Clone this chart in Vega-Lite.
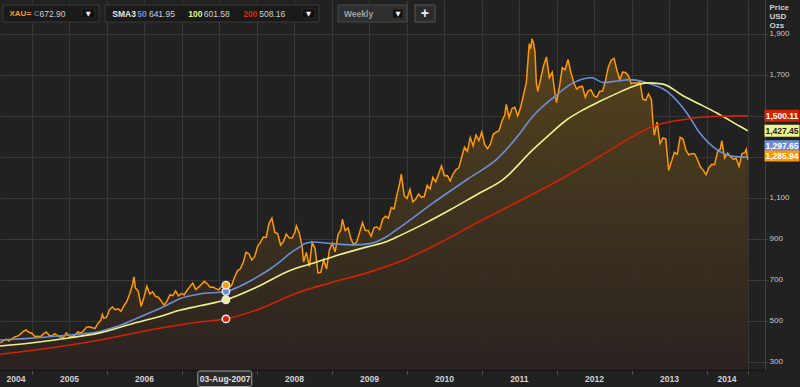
{
"$schema":"https://vega.github.io/schema/vega-lite/v6.json",
"width":765,"height":370,
"autosize":{"type":"none"},
"padding":{"left":0,"top":0,"right":35,"bottom":17},
"background":"#212121",
"config":{"view":{"stroke":null},"font":"Liberation Sans"},
"datasets":{
"price":[
{"date":"2004-07-30","value":391},{"date":"2004-08-13","value":401},{"date":"2004-08-27","value":408},{"date":"2004-09-10","value":401},{"date":"2004-09-24","value":410},{"date":"2004-10-08","value":420},{"date":"2004-10-22","value":424},{"date":"2004-11-05","value":434},{"date":"2004-11-19","value":447},{"date":"2004-12-03","value":454},{"date":"2004-12-17","value":443},{"date":"2004-12-31","value":438},
{"date":"2005-01-14","value":422},{"date":"2005-01-28","value":423},{"date":"2005-02-11","value":421},{"date":"2005-02-25","value":435},{"date":"2005-03-11","value":444},{"date":"2005-03-25","value":428},{"date":"2005-04-08","value":424},{"date":"2005-04-22","value":436},{"date":"2005-05-06","value":427},{"date":"2005-05-20","value":419},{"date":"2005-06-03","value":418},{"date":"2005-06-17","value":441},{"date":"2005-07-01","value":425},{"date":"2005-07-15","value":422},{"date":"2005-07-29","value":429},{"date":"2005-08-12","value":445},{"date":"2005-08-26","value":439},{"date":"2005-09-09","value":450},{"date":"2005-09-23","value":468},{"date":"2005-10-07","value":470},{"date":"2005-10-21","value":465},{"date":"2005-11-04","value":462},{"date":"2005-11-18","value":486},{"date":"2005-12-02","value":502},{"date":"2005-12-09","value":530},{"date":"2005-12-16","value":511},{"date":"2005-12-30","value":517},
{"date":"2006-01-13","value":553},{"date":"2006-01-27","value":566},{"date":"2006-02-10","value":553},{"date":"2006-02-24","value":557},{"date":"2006-03-10","value":545},{"date":"2006-03-24","value":572},{"date":"2006-04-07","value":593},{"date":"2006-04-21","value":630},{"date":"2006-05-05","value":675},{"date":"2006-05-12","value":714},{"date":"2006-05-19","value":660},{"date":"2006-06-02","value":643},{"date":"2006-06-16","value":570},{"date":"2006-06-30","value":614},{"date":"2006-07-14","value":668},{"date":"2006-07-28","value":630},{"date":"2006-08-11","value":640},{"date":"2006-08-25","value":618},{"date":"2006-09-08","value":614},{"date":"2006-09-22","value":596},{"date":"2006-10-06","value":575},{"date":"2006-10-20","value":595},{"date":"2006-11-03","value":625},{"date":"2006-11-17","value":622},{"date":"2006-12-01","value":645},{"date":"2006-12-15","value":621},{"date":"2006-12-29","value":632},
{"date":"2007-01-12","value":626},{"date":"2007-01-26","value":648},{"date":"2007-02-09","value":666},{"date":"2007-02-23","value":683},{"date":"2007-03-09","value":652},{"date":"2007-03-23","value":663},{"date":"2007-04-06","value":677},{"date":"2007-04-20","value":692},{"date":"2007-05-04","value":680},{"date":"2007-05-18","value":663},{"date":"2007-06-01","value":664},{"date":"2007-06-15","value":656},{"date":"2007-06-29","value":650},{"date":"2007-07-13","value":666},{"date":"2007-07-27","value":666},{"date":"2007-08-03","value":672.9},{"date":"2007-08-17","value":660},{"date":"2007-08-31","value":672},{"date":"2007-09-14","value":712},{"date":"2007-09-28","value":743},{"date":"2007-10-12","value":753},{"date":"2007-10-26","value":784},{"date":"2007-11-09","value":833},{"date":"2007-11-23","value":826},{"date":"2007-12-07","value":796},{"date":"2007-12-21","value":812},
{"date":"2008-01-04","value":862},{"date":"2008-01-18","value":882},{"date":"2008-02-01","value":908},{"date":"2008-02-15","value":906},{"date":"2008-02-29","value":975},{"date":"2008-03-14","value":1000},{"date":"2008-03-28","value":931},{"date":"2008-04-11","value":925},{"date":"2008-04-25","value":869},{"date":"2008-05-09","value":886},{"date":"2008-05-23","value":923},{"date":"2008-06-06","value":904},{"date":"2008-06-20","value":903},{"date":"2008-07-04","value":931},{"date":"2008-07-11","value":963},{"date":"2008-07-25","value":928},{"date":"2008-08-08","value":864},{"date":"2008-08-15","value":786},{"date":"2008-08-29","value":833},{"date":"2008-09-12","value":764},{"date":"2008-09-26","value":881},{"date":"2008-10-10","value":854},{"date":"2008-10-24","value":733},{"date":"2008-11-07","value":736},{"date":"2008-11-21","value":798},{"date":"2008-12-05","value":752},{"date":"2008-12-19","value":845},
{"date":"2009-01-02","value":878},{"date":"2009-01-16","value":835},{"date":"2009-01-30","value":920},{"date":"2009-02-13","value":944},{"date":"2009-02-20","value":995},{"date":"2009-03-06","value":940},{"date":"2009-03-20","value":953},{"date":"2009-04-03","value":898},{"date":"2009-04-17","value":870},{"date":"2009-05-01","value":885},{"date":"2009-05-15","value":930},{"date":"2009-05-29","value":978},{"date":"2009-06-12","value":940},{"date":"2009-06-26","value":940},{"date":"2009-07-10","value":912},{"date":"2009-07-24","value":953},{"date":"2009-08-07","value":958},{"date":"2009-08-21","value":944},{"date":"2009-09-04","value":995},{"date":"2009-09-18","value":1010},{"date":"2009-10-02","value":1000},{"date":"2009-10-16","value":1052},{"date":"2009-10-30","value":1045},{"date":"2009-11-13","value":1115},{"date":"2009-11-27","value":1174},{"date":"2009-12-04","value":1216},{"date":"2009-12-18","value":1110},
{"date":"2010-01-01","value":1096},{"date":"2010-01-15","value":1140},{"date":"2010-01-29","value":1080},{"date":"2010-02-12","value":1092},{"date":"2010-02-26","value":1118},{"date":"2010-03-12","value":1102},{"date":"2010-03-26","value":1106},{"date":"2010-04-09","value":1160},{"date":"2010-04-23","value":1143},{"date":"2010-05-07","value":1200},{"date":"2010-05-21","value":1178},{"date":"2010-06-04","value":1217},{"date":"2010-06-18","value":1256},{"date":"2010-07-02","value":1208},{"date":"2010-07-16","value":1209},{"date":"2010-07-30","value":1182},{"date":"2010-08-13","value":1216},{"date":"2010-08-27","value":1237},{"date":"2010-09-10","value":1246},{"date":"2010-09-24","value":1298},{"date":"2010-10-08","value":1347},{"date":"2010-10-22","value":1327},{"date":"2010-11-05","value":1394},{"date":"2010-11-19","value":1353},{"date":"2010-12-03","value":1406},{"date":"2010-12-17","value":1379},{"date":"2010-12-31","value":1421},
{"date":"2011-01-14","value":1360},{"date":"2011-01-28","value":1340},{"date":"2011-02-11","value":1362},{"date":"2011-02-25","value":1410},{"date":"2011-03-11","value":1421},{"date":"2011-03-25","value":1428},{"date":"2011-04-08","value":1474},{"date":"2011-04-22","value":1504},{"date":"2011-04-29","value":1556},{"date":"2011-05-13","value":1492},{"date":"2011-05-27","value":1536},{"date":"2011-06-10","value":1542},{"date":"2011-06-24","value":1500},{"date":"2011-07-08","value":1541},{"date":"2011-07-22","value":1601},{"date":"2011-08-05","value":1663},{"date":"2011-08-19","value":1852},{"date":"2011-08-26","value":1828},{"date":"2011-09-02","value":1877},{"date":"2011-09-09","value":1856},{"date":"2011-09-16","value":1812},{"date":"2011-09-23","value":1657},{"date":"2011-09-30","value":1620},{"date":"2011-10-14","value":1683},{"date":"2011-10-28","value":1745},{"date":"2011-11-11","value":1788},{"date":"2011-11-25","value":1686},{"date":"2011-12-09","value":1713},{"date":"2011-12-23","value":1606},{"date":"2011-12-30","value":1565},
{"date":"2012-01-13","value":1640},{"date":"2012-01-27","value":1736},{"date":"2012-02-10","value":1725},{"date":"2012-02-24","value":1776},{"date":"2012-03-09","value":1712},{"date":"2012-03-23","value":1662},{"date":"2012-04-06","value":1631},{"date":"2012-04-20","value":1642},{"date":"2012-05-04","value":1644},{"date":"2012-05-18","value":1591},{"date":"2012-06-01","value":1622},{"date":"2012-06-15","value":1627},{"date":"2012-06-29","value":1598},{"date":"2012-07-13","value":1592},{"date":"2012-07-27","value":1620},{"date":"2012-08-10","value":1620},{"date":"2012-08-24","value":1670},{"date":"2012-09-07","value":1738},{"date":"2012-09-21","value":1772},{"date":"2012-10-05","value":1781},{"date":"2012-10-19","value":1724},{"date":"2012-11-02","value":1676},{"date":"2012-11-16","value":1714},{"date":"2012-11-30","value":1712},{"date":"2012-12-14","value":1696},{"date":"2012-12-28","value":1657},
{"date":"2013-01-11","value":1662},{"date":"2013-01-25","value":1660},{"date":"2013-02-08","value":1667},{"date":"2013-02-22","value":1581},{"date":"2013-03-08","value":1576},{"date":"2013-03-22","value":1607},{"date":"2013-04-05","value":1580},{"date":"2013-04-12","value":1476},{"date":"2013-04-19","value":1406},{"date":"2013-05-03","value":1470},{"date":"2013-05-17","value":1365},{"date":"2013-05-31","value":1392},{"date":"2013-06-14","value":1388},{"date":"2013-06-28","value":1234},{"date":"2013-07-12","value":1277},{"date":"2013-07-26","value":1322},{"date":"2013-08-09","value":1313},{"date":"2013-08-23","value":1396},{"date":"2013-09-06","value":1387},{"date":"2013-09-20","value":1333},{"date":"2013-10-04","value":1310},{"date":"2013-10-18","value":1315},{"date":"2013-11-01","value":1315},{"date":"2013-11-15","value":1288},{"date":"2013-11-29","value":1251},{"date":"2013-12-13","value":1235},{"date":"2013-12-27","value":1213},
{"date":"2014-01-10","value":1247},{"date":"2014-01-24","value":1264},{"date":"2014-02-07","value":1263},{"date":"2014-02-21","value":1324},{"date":"2014-03-07","value":1339},{"date":"2014-03-14","value":1379},{"date":"2014-03-28","value":1294},{"date":"2014-04-11","value":1318},{"date":"2014-04-25","value":1300},{"date":"2014-05-09","value":1288},{"date":"2014-05-23","value":1292},{"date":"2014-06-06","value":1253},{"date":"2014-06-20","value":1316},{"date":"2014-07-04","value":1320},{"date":"2014-07-11","value":1337},{"date":"2014-07-18","value":1285.94}
],
"sma":[
{"date":"2004-07-29","series":"SMA50","value":405},{"date":"2004-11-26","series":"SMA50","value":412},{"date":"2005-03-29","series":"SMA50","value":421},{"date":"2005-07-28","series":"SMA50","value":432},{"date":"2005-11-27","series":"SMA50","value":447},{"date":"2006-02-09","series":"SMA50","value":468},{"date":"2006-05-08","series":"SMA50","value":503},{"date":"2006-07-28","series":"SMA50","value":538},{"date":"2006-10-19","series":"SMA50","value":575},{"date":"2006-12-21","series":"SMA50","value":607},{"date":"2007-03-29","series":"SMA50","value":630},{"date":"2007-08-03","series":"SMA50","value":641.95},{"date":"2007-10-10","series":"SMA50","value":668},{"date":"2008-01-01","series":"SMA50","value":712},{"date":"2008-03-05","series":"SMA50","value":752},{"date":"2008-04-23","series":"SMA50","value":788},{"date":"2008-06-10","series":"SMA50","value":828},{"date":"2008-07-28","series":"SMA50","value":860},{"date":"2008-08-22","series":"SMA50","value":876},{"date":"2008-09-30","series":"SMA50","value":884},{"date":"2008-12-21","series":"SMA50","value":877},{"date":"2009-04-13","series":"SMA50","value":870},{"date":"2009-07-04","series":"SMA50","value":876},{"date":"2009-09-25","series":"SMA50","value":911},{"date":"2009-11-27","series":"SMA50","value":955},{"date":"2010-05-08","series":"SMA50","value":1075},{"date":"2010-10-19","series":"SMA50","value":1188},{"date":"2011-03-29","series":"SMA50","value":1302},{"date":"2011-06-19","series":"SMA50","value":1395},{"date":"2011-09-06","series":"SMA50","value":1498},{"date":"2011-12-13","series":"SMA50","value":1588},{"date":"2012-03-18","series":"SMA50","value":1660},{"date":"2012-06-19","series":"SMA50","value":1686},{"date":"2012-08-12","series":"SMA50","value":1663},{"date":"2012-10-19","series":"SMA50","value":1670},{"date":"2012-12-21","series":"SMA50","value":1677},{"date":"2013-03-15","series":"SMA50","value":1661},{"date":"2013-06-20","series":"SMA50","value":1620},{"date":"2013-09-25","series":"SMA50","value":1514},{"date":"2013-11-27","series":"SMA50","value":1416},{"date":"2014-02-18","series":"SMA50","value":1335},{"date":"2014-05-08","series":"SMA50","value":1302},{"date":"2014-07-18","series":"SMA50","value":1297.65},
{"date":"2004-07-29","series":"SMA100","value":376},{"date":"2005-01-05","series":"SMA100","value":392},{"date":"2005-06-20","series":"SMA100","value":414},{"date":"2005-11-27","series":"SMA100","value":440},{"date":"2006-05-08","series":"SMA100","value":486},{"date":"2006-09-15","series":"SMA100","value":520},{"date":"2006-12-21","series":"SMA100","value":550},{"date":"2007-03-29","series":"SMA100","value":572},{"date":"2007-08-03","series":"SMA100","value":601.58},{"date":"2008-01-01","series":"SMA100","value":664},{"date":"2008-06-10","series":"SMA100","value":745},{"date":"2008-09-30","series":"SMA100","value":780},{"date":"2009-01-05","series":"SMA100","value":812},{"date":"2009-06-20","series":"SMA100","value":860},{"date":"2009-09-25","series":"SMA100","value":886},{"date":"2009-11-27","series":"SMA100","value":915},{"date":"2010-03-29","series":"SMA100","value":975},{"date":"2010-07-28","series":"SMA100","value":1040},{"date":"2010-12-06","series":"SMA100","value":1115},{"date":"2011-04-13","series":"SMA100","value":1188},{"date":"2011-09-06","series":"SMA100","value":1335},{"date":"2011-11-27","series":"SMA100","value":1410},{"date":"2012-02-18","series":"SMA100","value":1481},{"date":"2012-05-08","series":"SMA100","value":1530},{"date":"2012-07-28","series":"SMA100","value":1571},{"date":"2012-10-19","series":"SMA100","value":1610},{"date":"2013-01-05","series":"SMA100","value":1644},{"date":"2013-03-15","series":"SMA100","value":1661},{"date":"2013-05-31","series":"SMA100","value":1655},{"date":"2013-09-06","series":"SMA100","value":1598},{"date":"2013-11-27","series":"SMA100","value":1557},{"date":"2014-02-18","series":"SMA100","value":1514},{"date":"2014-06-10","series":"SMA100","value":1449},{"date":"2014-07-18","series":"SMA100","value":1427.45},
{"date":"2004-07-29","series":"SMA200","value":335},{"date":"2005-03-29","series":"SMA200","value":366},{"date":"2005-11-27","series":"SMA200","value":405},{"date":"2006-07-28","series":"SMA200","value":454},{"date":"2007-03-29","series":"SMA200","value":493},{"date":"2007-08-03","series":"SMA200","value":508.16},{"date":"2008-01-01","series":"SMA200","value":552},{"date":"2008-07-14","series":"SMA200","value":635},{"date":"2008-12-21","series":"SMA200","value":684},{"date":"2009-06-20","series":"SMA200","value":733},{"date":"2009-11-27","series":"SMA200","value":788},{"date":"2010-06-10","series":"SMA200","value":880},{"date":"2010-12-21","series":"SMA200","value":985},{"date":"2011-07-04","series":"SMA200","value":1085},{"date":"2012-01-15","series":"SMA200","value":1188},{"date":"2012-07-28","series":"SMA200","value":1302},{"date":"2013-01-05","series":"SMA200","value":1400},{"date":"2013-04-13","series":"SMA200","value":1449},{"date":"2013-09-06","series":"SMA200","value":1481},{"date":"2014-02-18","series":"SMA200","value":1498},{"date":"2014-07-18","series":"SMA200","value":1500.11}
],
"cross":[
{"date":"2007-08-03","series":"SMA200","value":508.16},{"date":"2007-08-03","series":"SMA100","value":601.58},{"date":"2007-08-03","series":"SMA50","value":641.95},{"date":"2007-08-03","series":"XAU","value":672.9}
],
"tags":[
{"series":"SMA200","value":1500.11},{"series":"SMA100","value":1427.45},{"series":"SMA50","value":1297.65},{"series":"XAU","value":1285.94}
],
"years":[
{"date":"2004-10-15","label":"2004"},{"date":"2005-07-02","label":"2005"},{"date":"2006-07-02","label":"2006"},{"date":"2008-07-02","label":"2008"},{"date":"2009-07-02","label":"2009"},{"date":"2010-07-02","label":"2010"},{"date":"2011-07-02","label":"2011"},{"date":"2012-07-02","label":"2012"},{"date":"2013-07-02","label":"2013"},{"date":"2014-04-08","label":"2014"}
],
"hdr":[
{"t":"XAU=","date":"2004-09-13","role":"xau"},{"t":"C","date":"2005-01-10","role":"c"},{"t":"672.90","date":"2005-02-06","role":"val"},
{"t":"SMA3","date":"2006-01-27","role":"sma3"},{"t":"50","date":"2006-05-28","role":"p50"},{"t":"641.95","date":"2006-07-24","role":"val"},{"t":"100","date":"2007-02-01","role":"p100"},{"t":"601.58","date":"2007-04-17","role":"val"},{"t":"200","date":"2007-10-26","role":"p200"},{"t":"508.16","date":"2008-01-12","role":"val"},
{"t":"Weekly","date":"2009-02-28","role":"weekly"},
{"t":"▼","date":"2005-10-02","role":"arrow"},{"t":"▼","date":"2008-09-08","role":"arrow"},{"t":"▼","date":"2009-11-18","role":"arrow"},
{"t":"+","date":"2010-03-29","role":"plus"}
],
"boxes":[
{"date":"2004-08-12","date2":"2005-11-23","kind":"panel"},{"date":"2005-12-22","date2":"2008-10-29","kind":"panel"},{"date":"2009-01-30","date2":"2010-01-01","kind":"weekly"},{"date":"2010-02-09","date2":"2010-05-17","kind":"plus"},
{"date":"2005-09-01","date2":"2005-11-03","kind":"btn"},{"date":"2008-08-07","date2":"2008-10-09","kind":"btn"},{"date":"2009-10-24","date2":"2009-12-12","kind":"btn"}
],
"mark2007":[{"date":"2007-03-19","date2":"2007-12-07","label":"03-Aug-2007","at":"2007-07-30"}]
},
"layer":[
{"data":{"name":"price"},"mark":{"type":"area","opacity":0.92,"color":{"x1":0,"y1":0,"x2":0,"y2":1,"gradient":"linear","stops":[{"offset":0,"color":"#5c461c"},{"offset":0.5,"color":"#41351f"},{"offset":1,"color":"#2b2220"}]}},
 "encoding":{
  "x":{"field":"date","type":"temporal",
   "scale":{"domain":[{"year":2004,"month":7,"date":28,"hours":19,"utc":true},{"year":2014,"month":10,"date":10,"hours":7,"utc":true}]},
   "axis":{"title":null,
    "values":[{"year":2005,"month":1,"date":1,"utc":true},{"year":2005,"month":7,"date":1,"utc":true},{"year":2006,"month":1,"date":1,"utc":true},{"year":2006,"month":7,"date":1,"utc":true},{"year":2007,"month":1,"date":1,"utc":true},{"year":2007,"month":7,"date":1,"utc":true},{"year":2008,"month":1,"date":1,"utc":true},{"year":2008,"month":7,"date":1,"utc":true},{"year":2009,"month":1,"date":1,"utc":true},{"year":2009,"month":7,"date":1,"utc":true},{"year":2010,"month":1,"date":1,"utc":true},{"year":2010,"month":7,"date":1,"utc":true},{"year":2011,"month":1,"date":1,"utc":true},{"year":2011,"month":7,"date":1,"utc":true},{"year":2012,"month":1,"date":1,"utc":true},{"year":2012,"month":7,"date":1,"utc":true},{"year":2013,"month":1,"date":1,"utc":true},{"year":2013,"month":7,"date":1,"utc":true},{"year":2014,"month":1,"date":1,"utc":true},{"year":2014,"month":7,"date":18,"utc":true}],
    "grid":true,"gridColor":"#373737","gridWidth":1,"labels":false,"ticks":true,"tickSize":4,"tickColor":"#555555",
    "tickOpacity":{"condition":{"test":"utcmonth(datum.value)==0 || utcdate(datum.value)==18","value":1},"value":0},
    "domainColor":"#111111","domainWidth":1}},
  "y":{"field":"value","type":"quantitative",
   "scale":{"domain":[258.5,2066.1],"nice":false,"zero":false},
   "axis":{"orient":"right","values":[300,500,700,900,1100,1300,1500,1700,1900],
    "labelExpr":"(datum.value==1300 || datum.value==1500) ? '' : format(datum.value, ',')",
    "grid":true,"gridColor":"#373737","gridWidth":1,
    "domainColor":"#444444","tickColor":"#444444","tickSize":3,"labelPadding":1,"labelAlign":"left","labelBaseline":"middle",
    "labelColor":"#c8c8c8","labelFontSize":8,"labelFont":"Liberation Sans","labelFlush":false,"labelOverlap":false,
    "title":["Price","USD","Ozs"],"titleAngle":0,"titleAlign":"left","titleBaseline":"top","titleX":4,"titleY":3,
    "titleFontSize":8,"titleFontWeight":"bold","titleColor":"#d0d0d0","titleFont":"Liberation Sans","titleLineHeight":9}},
  "y2":{"datum":258.5}}},
{"data":{"name":"price"},"mark":{"type":"line","color":"#ff9900","strokeWidth":1.5},
 "encoding":{"x":{"field":"date","type":"temporal"},"y":{"field":"value","type":"quantitative"}}},
{"data":{"name":"sma"},"mark":{"type":"line","strokeWidth":1.6,"interpolate":"monotone"},
 "encoding":{"x":{"field":"date","type":"temporal"},"y":{"field":"value","type":"quantitative"},
  "color":{"field":"series","type":"nominal","scale":{"domain":["XAU","SMA50","SMA100","SMA200"],"range":["#ff9900","#6b8ed8","#eef28a","#d42200"]},"legend":null}}},
{"data":{"name":"cross"},"mark":{"type":"point","filled":true,"size":55,"stroke":"#e8e8e8","strokeWidth":1.5,"opacity":1},
 "encoding":{"x":{"field":"date","type":"temporal"},"y":{"field":"value","type":"quantitative"},
  "color":{"field":"series","type":"nominal","scale":{"domain":["XAU","SMA50","SMA100","SMA200"],"range":["#ff9900","#6b8ed8","#eef28a","#d42200"]},"legend":null}}},
{"data":{"name":"years"},"mark":{"type":"text","fontSize":8.5,"fontWeight":"bold","color":"#d2d2d2","align":"center","baseline":"middle","font":"Liberation Sans"},
 "encoding":{"x":{"field":"date","type":"temporal"},"y":{"datum":216,"type":"quantitative"},"text":{"field":"label"}}},
{"data":{"name":"mark2007"},"mark":{"type":"rect","fill":"#2b2b2b","stroke":"#a0a0a0","strokeWidth":1,"cornerRadius":2},
 "encoding":{"x":{"field":"date","type":"temporal"},"x2":{"field":"date2"},"y":{"datum":253.6,"type":"quantitative"},"y2":{"datum":178}}},
{"data":{"name":"mark2007"},"mark":{"type":"text","fontSize":8.5,"fontWeight":"bold","color":"#e0e0e0","align":"center","baseline":"middle","font":"Liberation Sans"},
 "encoding":{"x":{"field":"at","type":"temporal"},"y":{"datum":216,"type":"quantitative"},"text":{"field":"label"}}},
{"data":{"name":"tags"},
 "encoding":{"x":{"datum":{"year":2015,"month":1,"date":1,"utc":true},"type":"temporal"},"y":{"field":"value","type":"quantitative"}},
 "layer":[
  {"transform":[{"filter":"datum.series=='SMA200' || datum.series=='SMA100'"}],"mark":{"type":"tick","orient":"horizontal","size":35,"thickness":12,"opacity":1},"encoding":{"color":{"field":"series","type":"nominal","scale":{"domain":["XAU","SMA50","SMA100","SMA200"],"range":["#ff9900","#6b8ed8","#eef28a","#d42200"]},"legend":null}}},
  {"transform":[{"filter":"datum.series=='SMA50'"}],"mark":{"type":"tick","orient":"horizontal","size":35,"thickness":11,"opacity":1,"yOffset":-11.5},"encoding":{"color":{"field":"series","type":"nominal","scale":{"domain":["XAU","SMA50","SMA100","SMA200"],"range":["#ff9900","#6b8ed8","#eef28a","#d42200"]},"legend":null}}},
  {"transform":[{"filter":"datum.series=='XAU'"}],"mark":{"type":"tick","orient":"horizontal","size":35,"thickness":11,"opacity":1,"yOffset":-3.7},"encoding":{"color":{"field":"series","type":"nominal","scale":{"domain":["XAU","SMA50","SMA100","SMA200"],"range":["#ff9900","#6b8ed8","#eef28a","#d42200"]},"legend":null}}},
  {"transform":[{"filter":"datum.series=='SMA200'"}],"mark":{"type":"text","fontSize":8.5,"fontWeight":"bold","align":"center","baseline":"middle","font":"Liberation Sans","color":"#ffffff"},"encoding":{"text":{"field":"value","format":",.2f"}}},
  {"transform":[{"filter":"datum.series=='SMA100'"}],"mark":{"type":"text","fontSize":8.5,"fontWeight":"bold","align":"center","baseline":"middle","font":"Liberation Sans","color":"#202020"},"encoding":{"text":{"field":"value","format":",.2f"}}},
  {"transform":[{"filter":"datum.series=='SMA50'"}],"mark":{"type":"text","fontSize":8.5,"fontWeight":"bold","align":"center","baseline":"middle","font":"Liberation Sans","yOffset":-11.5,"color":"#ffffff"},"encoding":{"text":{"field":"value","format":",.2f"}}},
  {"transform":[{"filter":"datum.series=='XAU'"}],"mark":{"type":"text","fontSize":8.5,"fontWeight":"bold","align":"center","baseline":"middle","font":"Liberation Sans","yOffset":-3.7,"color":"#ffffff"},"encoding":{"text":{"field":"value","format":",.2f"}}}
 ]},
{"data":{"name":"boxes"},
 "encoding":{"x":{"field":"date","type":"temporal"},"x2":{"field":"date2"}},
 "layer":[
  {"transform":[{"filter":"datum.kind=='panel'"}],"mark":{"type":"rect","fill":"#1a1a1a","stroke":"#3b3b3b","strokeWidth":1},"encoding":{"y":{"datum":2041.6,"type":"quantitative"},"y2":{"datum":1958.5}}},
  {"transform":[{"filter":"datum.kind=='weekly'"}],"mark":{"type":"rect","fill":"#2f2f2f","stroke":"#4a4a4a","strokeWidth":1},"encoding":{"y":{"datum":2041.6,"type":"quantitative"},"y2":{"datum":1958.5}}},
  {"transform":[{"filter":"datum.kind=='plus'"}],"mark":{"type":"rect","fill":"#2b2b2b","stroke":"#585858","strokeWidth":1},"encoding":{"y":{"datum":2041.6,"type":"quantitative"},"y2":{"datum":1958.5}}},
  {"transform":[{"filter":"datum.kind=='btn'"}],"mark":{"type":"rect","fill":"#0e0e0e","stroke":"#2c2c2c","strokeWidth":1},"encoding":{"y":{"datum":2022,"type":"quantitative"},"y2":{"datum":1978}}}
 ]},
{"data":{"name":"hdr"},
 "encoding":{"x":{"field":"date","type":"temporal"},"y":{"datum":2000,"type":"quantitative"},"text":{"field":"t"}},
 "layer":[
  {"transform":[{"filter":"datum.role=='xau'"}],"mark":{"type":"text","align":"left","baseline":"middle","fontSize":8,"fontWeight":"bold","font":"Liberation Sans","color":"#f59a12"}},
  {"transform":[{"filter":"datum.role=='c'"}],"mark":{"type":"text","align":"left","baseline":"middle","fontSize":7.5,"font":"Liberation Sans","color":"#9a9a9a"}},
  {"transform":[{"filter":"datum.role=='val'"}],"mark":{"type":"text","align":"left","baseline":"middle","fontSize":8.5,"font":"Liberation Sans","color":"#cfcfcf"}},
  {"transform":[{"filter":"datum.role=='sma3'"}],"mark":{"type":"text","align":"left","baseline":"middle","fontSize":8.5,"fontWeight":"bold","font":"Liberation Sans","color":"#e2e2e2"}},
  {"transform":[{"filter":"datum.role=='p50'"}],"mark":{"type":"text","align":"left","baseline":"middle","fontSize":8.5,"fontWeight":"bold","font":"Liberation Sans","color":"#6f8fdc"}},
  {"transform":[{"filter":"datum.role=='p100'"}],"mark":{"type":"text","align":"left","baseline":"middle","fontSize":8.5,"fontWeight":"bold","font":"Liberation Sans","color":"#e6f07a"}},
  {"transform":[{"filter":"datum.role=='p200'"}],"mark":{"type":"text","align":"left","baseline":"middle","fontSize":8.5,"fontWeight":"bold","font":"Liberation Sans","color":"#d42a00"}},
  {"transform":[{"filter":"datum.role=='weekly'"}],"mark":{"type":"text","align":"left","baseline":"middle","fontSize":8.5,"fontWeight":"bold","font":"Liberation Sans","color":"#a0a0a0"}},
  {"transform":[{"filter":"datum.role=='arrow'"}],"mark":{"type":"text","align":"center","baseline":"middle","fontSize":6.5,"font":"DejaVu Sans","color":"#f0f0f0"}},
  {"transform":[{"filter":"datum.role=='plus'"}],"mark":{"type":"text","align":"center","baseline":"middle","fontSize":14,"fontWeight":"bold","font":"Liberation Sans","color":"#f0f0f0"}}
 ]}
]
}
